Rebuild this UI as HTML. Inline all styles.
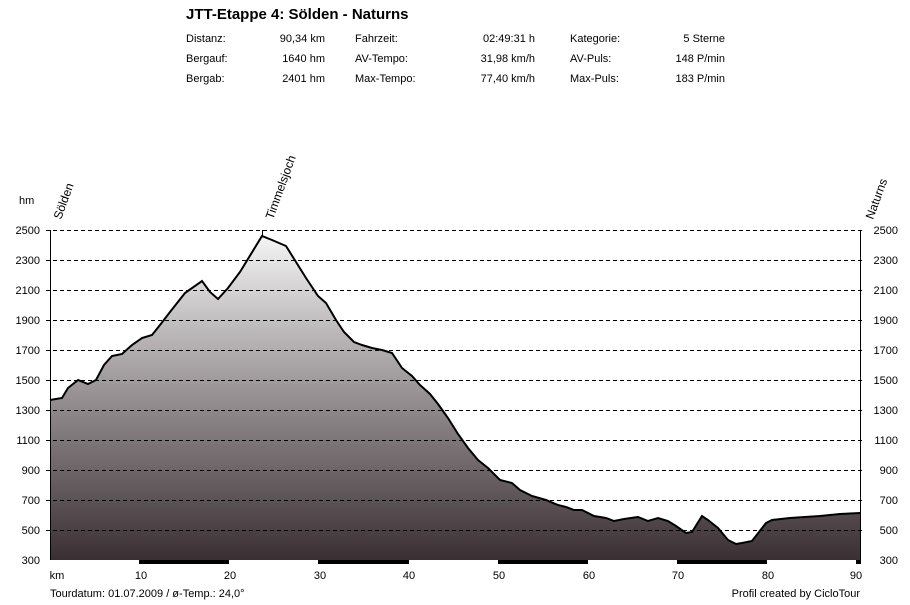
<!DOCTYPE html><html><head><meta charset="utf-8"><style>
body{margin:0;width:910px;height:600px;background:#fff;font-family:"Liberation Sans",sans-serif;overflow:hidden}
</style></head><body>
<svg width="910" height="600" viewBox="0 0 910 600" xmlns="http://www.w3.org/2000/svg" font-family="Liberation Sans, sans-serif">
<defs><linearGradient id="g" x1="0" y1="230" x2="0" y2="560" gradientUnits="userSpaceOnUse">
<stop offset="0" stop-color="#f8f8f8"/><stop offset="0.5" stop-color="#979193"/><stop offset="1" stop-color="#3a2f33"/></linearGradient></defs>
<text x="186" y="19" font-size="15" font-weight="bold">JTT-Etappe 4: Sölden - Naturns</text>
<g font-size="11">
<text x="186" y="42">Distanz:</text><text x="325" y="42" text-anchor="end">90,34 km</text>
<text x="186" y="62">Bergauf:</text><text x="325" y="62" text-anchor="end">1640 hm</text>
<text x="186" y="82">Bergab:</text><text x="325" y="82" text-anchor="end">2401 hm</text>
<text x="355" y="42">Fahrzeit:</text><text x="535" y="42" text-anchor="end">02:49:31 h</text>
<text x="355" y="62">AV-Tempo:</text><text x="535" y="62" text-anchor="end">31,98 km/h</text>
<text x="355" y="82">Max-Tempo:</text><text x="535" y="82" text-anchor="end">77,40 km/h</text>
<text x="570" y="42">Kategorie:</text><text x="725" y="42" text-anchor="end">5 Sterne</text>
<text x="570" y="62">AV-Puls:</text><text x="725" y="62" text-anchor="end">148 P/min</text>
<text x="570" y="82">Max-Puls:</text><text x="725" y="82" text-anchor="end">183 P/min</text>
</g>
<polygon fill="url(#g)" points="50,560 50,400 62,398 68,388 78,380 88,384 96,380 104,365 112,356 122,354 132,345 142,338 152,335 160,325 170,312 185,293 202,281 210,292 218,299 228,288 240,272 262,236 272,240 286,246 296,262 306,278 318,296 326,303 336,320 344,332 354,342 362,345 372,348 382,350 392,353 402,368 412,376 420,385 430,394 438,404 448,418 458,434 468,448 478,460 488,468 500,480 512,483 520,490 532,496 546,500 558,505 566,507 574,510 582,510 594,516 606,518 614,521 624,519 638,517 648,521 658,518 668,521 676,526 686,533 692,532 702,516 708,520 718,528 728,540 736,544 742,543 752,541 766,523 772,520 790,518 820,516 840,514 860,513 860,560"/>
<g stroke="#000" stroke-dasharray="4,3" stroke-width="1">
<line x1="46" y1="230.5" x2="864" y2="230.5"/><line x1="46" y1="260.5" x2="864" y2="260.5"/><line x1="46" y1="290.5" x2="864" y2="290.5"/><line x1="46" y1="320.5" x2="864" y2="320.5"/><line x1="46" y1="350.5" x2="864" y2="350.5"/><line x1="46" y1="380.5" x2="864" y2="380.5"/><line x1="46" y1="410.5" x2="864" y2="410.5"/><line x1="46" y1="440.5" x2="864" y2="440.5"/><line x1="46" y1="470.5" x2="864" y2="470.5"/><line x1="46" y1="500.5" x2="864" y2="500.5"/><line x1="46" y1="530.5" x2="864" y2="530.5"/>
</g>
<polyline fill="none" stroke="#000" stroke-width="2" points="50,400 62,398 68,388 78,380 88,384 96,380 104,365 112,356 122,354 132,345 142,338 152,335 160,325 170,312 185,293 202,281 210,292 218,299 228,288 240,272 262,236 272,240 286,246 296,262 306,278 318,296 326,303 336,320 344,332 354,342 362,345 372,348 382,350 392,353 402,368 412,376 420,385 430,394 438,404 448,418 458,434 468,448 478,460 488,468 500,480 512,483 520,490 532,496 546,500 558,505 566,507 574,510 582,510 594,516 606,518 614,521 624,519 638,517 648,521 658,518 668,521 676,526 686,533 692,532 702,516 708,520 718,528 728,540 736,544 742,543 752,541 766,523 772,520 790,518 820,516 840,514 860,513"/>
<line x1="50.5" y1="230" x2="50.5" y2="564" stroke="#000"/><line x1="860.5" y1="230" x2="860.5" y2="564" stroke="#000"/>
<line x1="262.5" y1="230" x2="262.5" y2="236" stroke="#000"/>
<rect x="50" y="560" width="811" height="4" fill="#fff"/>
<g fill="#000"><rect x="139" y="560" width="90" height="4"/><rect x="318" y="560" width="91" height="4"/><rect x="498" y="560" width="90" height="4"/><rect x="677" y="560" width="90" height="4"/><rect x="856" y="560" width="5" height="4"/></g>
<g font-size="11" text-anchor="end">
<text x="40" y="234">2500</text><text x="40" y="264">2300</text><text x="40" y="294">2100</text><text x="40" y="324">1900</text><text x="40" y="354">1700</text><text x="40" y="384">1500</text><text x="40" y="414">1300</text><text x="40" y="444">1100</text><text x="40" y="474">900</text><text x="40" y="504">700</text><text x="40" y="534">500</text><text x="40" y="564">300</text>
</g>
<g font-size="11" text-anchor="end">
<text x="898" y="234">2500</text><text x="898" y="264">2300</text><text x="898" y="294">2100</text><text x="898" y="324">1900</text><text x="898" y="354">1700</text><text x="898" y="384">1500</text><text x="898" y="414">1300</text><text x="898" y="444">1100</text><text x="898" y="474">900</text><text x="898" y="504">700</text><text x="898" y="534">500</text><text x="898" y="564">300</text>
</g>
<text x="19" y="204" font-size="11">hm</text>
<g font-size="11" text-anchor="middle">
<text x="57" y="579">km</text><text x="141" y="579">10</text><text x="230" y="579">20</text><text x="320" y="579">30</text><text x="409" y="579">40</text><text x="499" y="579">50</text><text x="589" y="579">60</text><text x="678" y="579">70</text><text x="768" y="579">80</text><text x="856" y="579">90</text>
</g>
<text x="50" y="597" font-size="11">Tourdatum: 01.07.2009  /  ø-Temp.: 24,0°</text>
<text x="860" y="597" font-size="11" text-anchor="end">Profil created by CicloTour</text>
<g font-size="12">
<text transform="translate(61,220) rotate(-70)">Sölden</text>
<text transform="translate(273,220) rotate(-70)">Timmelsjoch</text>
<text transform="translate(873,220) rotate(-70)">Naturns</text>
</g>
</svg></body></html>
